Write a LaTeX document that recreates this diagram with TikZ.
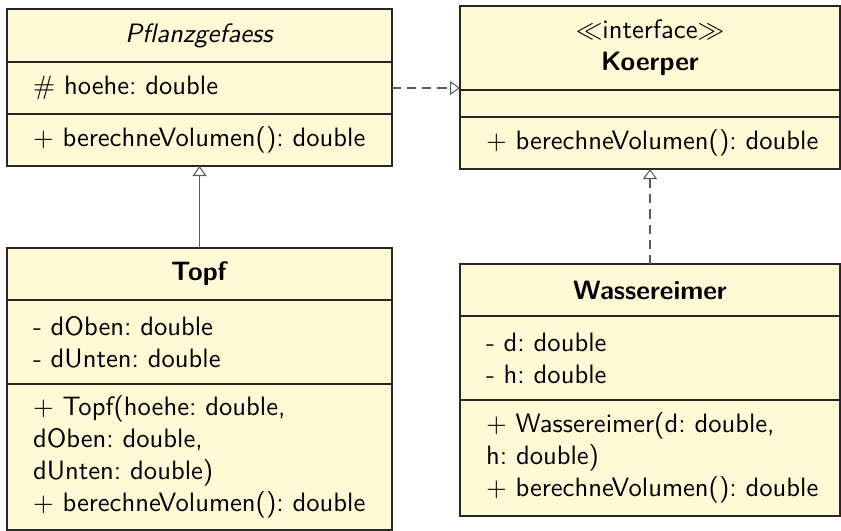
\documentclass[tikz,border=0pt]{standalone}
\usepackage{amssymb}
\usetikzlibrary{positioning}
\usetikzlibrary{arrows.meta}

\newlength\pxl
\setlength\pxl{0.376pt}
\definecolor{umlfill}{RGB}{255,249,214}
\definecolor{umlline}{RGB}{90,90,90}

\tikzset{
  clsbase/.style={draw=black!85,fill=umlfill,thin,outer sep=0pt,inner ysep=0pt,
    font=\sffamily\frenchspacing},
  clsname/.style={clsbase,align=center,inner xsep=10\pxl,text width=#1},
  clspart/.style={clsbase,inner xsep=0pt,text width=#1,
    execute at begin node={\raggedright\leftskip=26\pxl\relax\hyphenpenalty=10000\relax}},
  genarrow/.style={draw=umlline,thin,-{Triangle[open,length=3.76pt,width=5.26pt]}},
  realarrow/.style={genarrow,dash pattern=on 3.4pt off 2.3pt},
}

\begin{document}
\begin{tikzpicture}[x=\pxl,y=-\pxl]
\useasboundingbox (0,0) rectangle (841,530);

% Pflanzgefaess
\node[clsname=365\pxl,minimum height=53\pxl,anchor=north west] (pflName) at (7,9) {\textit{Pflanzgefaess}};
\node[clspart=385\pxl,minimum height=52\pxl,below=0pt of pflName] (pflAttr) {$\#$ hoehe: double};
\node[clspart=385\pxl,minimum height=52\pxl,below=0pt of pflAttr] (pflOps) {$+$ berechneVolumen(): double};

% Koerper
\node[clsname=360\pxl,minimum height=84\pxl,anchor=north west] (koeName) at (460,6) {$\ll$interface$\gg$\\\textbf{Koerper}};
\node[clspart=380\pxl,minimum height=27\pxl,below=0pt of koeName] (koeAttr) {};
\node[clspart=380\pxl,minimum height=52\pxl,below=0pt of koeAttr] (koeOps) {$+$ berechneVolumen(): double};

% Topf
\node[clsname=365\pxl,minimum height=52\pxl,anchor=north west] (topfName) at (7,248) {\textbf{Topf}};
\node[clspart=385\pxl,minimum height=84\pxl,below=0pt of topfName] (topfAttr) {- dOben: double\\- dUnten: double};
\node[clspart=385\pxl,minimum height=146\pxl,below=0pt of topfAttr] (topfOps) {$+$ Topf(hoehe: double,\\dOben: double,\\dUnten: double)\\$+$ berechneVolumen(): double};

% Wassereimer
\node[clsname=360\pxl,minimum height=52\pxl,anchor=north west] (wasName) at (460,264) {\textbf{Wassereimer}};
\node[clspart=380\pxl,minimum height=84\pxl,below=0pt of wasName] (wasAttr) {- d: double\\- h: double};
\node[clspart=380\pxl,minimum height=116\pxl,below=0pt of wasAttr] (wasOps) {$+$ Wassereimer(d: double,\\h: double)\\$+$ berechneVolumen(): double};

% Beziehungen
\draw[genarrow] (topfName.north) -- (pflOps.south);
\draw[realarrow] (pflAttr.east) -- (pflAttr.east -| koeName.west);
\draw[realarrow] (wasName.north) -- (koeOps.south);
\end{tikzpicture}
\end{document}
